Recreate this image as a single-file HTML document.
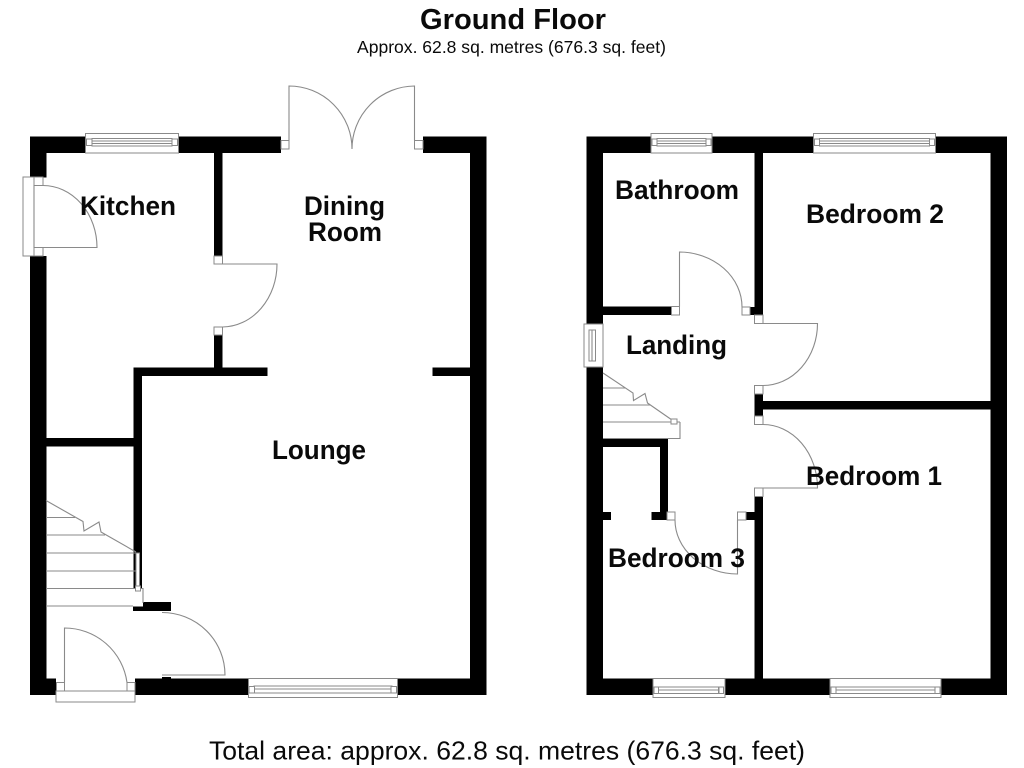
<!DOCTYPE html>
<html>
<head>
<meta charset="utf-8">
<title>Ground Floor</title>
<style>
html,body{margin:0;padding:0;background:#fff;width:1024px;height:768px;overflow:hidden}
svg{display:block}
text{font-family:"Liberation Sans",sans-serif;fill:#0a0a0a}
.l{font-weight:bold;font-size:26.4px}
.g{fill:#fff;stroke:#8a8a8a;stroke-width:1}
.n{fill:none;stroke:#8a8a8a;stroke-width:1.1}
</style>
</head>
<body>
<svg width="1024" height="768" viewBox="0 0 1024 768" xmlns="http://www.w3.org/2000/svg">
<rect width="1024" height="768" fill="#fff"/>

<!-- LEFT PLAN WALLS -->
<g fill="#000">
<rect x="30" y="136.5" width="251" height="16.5"/>
<rect x="423" y="136.5" width="63" height="16.5"/>
<rect x="30" y="136.5" width="16.5" height="41"/>
<rect x="30" y="256" width="16.5" height="439"/>
<rect x="470" y="136.5" width="16.5" height="558.5"/>
<rect x="30" y="678.5" width="26" height="16.5"/>
<rect x="135" y="678.5" width="351" height="16.5"/>
<rect x="214" y="153" width="8.5" height="103"/>
<rect x="214" y="335" width="8.5" height="33"/>
<rect x="133.5" y="367.5" width="134" height="8.5"/>
<rect x="432.5" y="367.5" width="38" height="8.5"/>
<rect x="133.5" y="367.5" width="8.5" height="221"/>
<rect x="46" y="438" width="88" height="8.5"/>
<rect x="143" y="602" width="28" height="9"/>
<rect x="133" y="606.5" width="12" height="4.5"/>
<rect x="162" y="677" width="9" height="2"/>
</g>

<!-- LEFT PLAN WINDOWS -->
<g>
<rect class="g" x="85.5" y="133.5" width="93" height="19.5"/>
<rect class="g" x="92" y="138.5" width="80" height="7.5"/>
<path class="n" d="M92 141h80M92 143.5h80"/>
<rect class="g" x="86.5" y="139" width="5.5" height="6.5"/>
<rect class="g" x="172" y="139" width="5.5" height="6.5"/>

<rect class="g" x="248.5" y="678.5" width="149" height="19"/>
<rect class="g" x="254" y="686" width="138" height="7"/>
<path class="n" d="M254 689h138"/>
<rect class="g" x="249" y="686.5" width="5.5" height="6.5"/>
<rect class="g" x="391" y="686.5" width="5.5" height="6.5"/>
</g>

<!-- LEFT PLAN DOORS -->
<g>
<!-- kitchen external door -->
<rect class="g" x="23" y="177" width="11" height="79"/>
<rect class="g" x="34" y="177" width="9" height="8.5"/>
<rect class="g" x="34" y="247.5" width="9" height="8.5"/>
<path class="n" d="M34 185V247.5H97A54 62 0 0 0 43 185.5"/>
<!-- kitchen/dining door -->
<rect class="g" x="214" y="256" width="8.5" height="8"/>
<rect class="g" x="214" y="327" width="8.5" height="8"/>
<path class="n" d="M222.5 264H277A55 63 0 0 1 222.5 327"/>
<!-- french doors -->
<rect class="g" x="281" y="140.5" width="8" height="8.5"/>
<rect class="g" x="414.5" y="140.5" width="8.5" height="8.5"/>
<path class="n" d="M289 140.5V86A63 63 0 0 1 352 149M414.5 140.5V86A63 63 0 0 0 352 149"/>
<!-- entrance door -->
<rect class="g" x="56" y="691" width="79" height="11"/>
<rect class="g" x="56.5" y="682.5" width="8" height="8.5"/>
<rect class="g" x="127" y="682.5" width="8" height="8.5"/>
<path class="n" d="M64.5 682.5V628A63 63 0 0 1 127 682.5"/>
<!-- lounge door -->
<path class="n" d="M162 612.5A63 62.5 0 0 1 225 675H162"/>
</g>

<!-- LEFT STAIRS -->
<g>
<path class="n" d="M46 500.5L83 521.5L84 531L99 522L101 532L136 552"/>
<path class="n" d="M46 517.5H75M46 535H105M46 553H136M46 571H136M46 588.5H136M46 606H133"/>
<rect class="g" x="136" y="553" width="3.5" height="34"/>
<rect class="g" x="135.5" y="586" width="5" height="5"/>
<path class="n" d="M140 588.5H143V603"/>
</g>

<!-- RIGHT PLAN WALLS -->
<g fill="#000">
<rect x="586.5" y="136.5" width="420.5" height="16.5"/>
<rect x="586.5" y="136.5" width="16.5" height="187"/>
<rect x="586.5" y="367" width="16.5" height="328"/>
<rect x="990.5" y="136.5" width="16.5" height="558.5"/>
<rect x="586.5" y="678.5" width="420.5" height="16.5"/>
<rect x="754.5" y="153" width="8.5" height="162"/>
<rect x="750" y="307" width="5" height="8"/>
<rect x="603" y="306.5" width="68" height="8.5"/>
<rect x="754.5" y="394" width="8.5" height="22"/>
<rect x="763" y="401" width="228" height="8.5"/>
<rect x="754.5" y="496.5" width="8.5" height="182"/>
<rect x="746" y="512" width="9" height="8"/>
<rect x="603" y="439" width="65" height="8"/>
<rect x="660" y="439" width="8" height="73"/>
<rect x="651.5" y="512" width="15.5" height="8"/>
<rect x="603" y="512" width="8" height="8"/>
</g>

<!-- RIGHT PLAN WINDOWS -->
<g>
<rect class="g" x="651" y="133.5" width="61" height="19.5"/>
<rect class="g" x="657" y="138.5" width="49" height="7.5"/>
<path class="n" d="M657 141h49M657 143.5h49"/>
<rect class="g" x="652" y="139" width="5" height="6.5"/>
<rect class="g" x="706" y="139" width="5" height="6.5"/>

<rect class="g" x="813.5" y="133.5" width="122" height="19.5"/>
<rect class="g" x="819.5" y="138.5" width="110" height="7.5"/>
<path class="n" d="M819.5 141h110M819.5 143.5h110"/>
<rect class="g" x="814.5" y="139" width="5" height="6.5"/>
<rect class="g" x="929.5" y="139" width="5" height="6.5"/>

<rect class="g" x="653" y="678.5" width="72" height="19"/>
<rect class="g" x="658.5" y="687" width="60" height="6.5"/>
<path class="n" d="M658.5 690h60"/>
<rect class="g" x="654" y="687" width="4.5" height="6.5"/>
<rect class="g" x="719" y="687" width="4.5" height="6.5"/>

<rect class="g" x="830" y="678.5" width="111" height="19"/>
<rect class="g" x="836" y="687" width="99" height="6.5"/>
<path class="n" d="M836 690h99"/>
<rect class="g" x="831" y="687" width="5" height="6.5"/>
<rect class="g" x="935" y="687" width="5" height="6.5"/>

<!-- landing window -->
<rect class="g" x="584" y="324" width="19" height="43"/>
<rect class="g" x="589" y="330" width="6.5" height="31"/>
<path class="n" d="M592 330v31"/>
</g>

<!-- RIGHT PLAN DOORS -->
<g>
<!-- bathroom -->
<rect class="g" x="671.5" y="306.5" width="8" height="8.5"/>
<rect class="g" x="742" y="307" width="8" height="8"/>
<path class="n" d="M679.5 306.5V252A63 55 0 0 1 742 307"/>
<!-- bedroom 2 -->
<rect class="g" x="754.5" y="315" width="8.5" height="8.5"/>
<rect class="g" x="754.5" y="385.5" width="8.5" height="8.5"/>
<path class="n" d="M763 323.5H817.5A54.5 62 0 0 1 763 385.5"/>
<!-- bedroom 1 -->
<rect class="g" x="754.5" y="416" width="8.5" height="8.5"/>
<rect class="g" x="754.5" y="488" width="8.5" height="8.5"/>
<path class="n" d="M763 424.5A54.5 63.5 0 0 1 817.5 488H763"/>
<!-- bedroom 3 -->
<rect class="g" x="667" y="512" width="8" height="8"/>
<rect class="g" x="737.5" y="512" width="8.5" height="8"/>
<path class="n" d="M675 520A63 54 0 0 0 737.5 574V520"/>
</g>

<!-- RIGHT STAIRS -->
<g>
<path class="n" d="M603 373L633 393L633.5 400.5L645 393.5L647.5 403L672 420"/>
<path class="n" d="M603 388H625M603 405H650M603 422H680M603 438.5H680V422"/>
<rect class="g" x="671" y="419" width="6" height="5"/>
</g>

<!-- TEXT -->
<text x="420" y="29" font-size="29" font-weight="bold" textLength="186" lengthAdjust="spacingAndGlyphs">Ground Floor</text>
<text x="357" y="53" font-size="17.5" textLength="309" lengthAdjust="spacingAndGlyphs">Approx. 62.8 sq. metres (676.3 sq. feet)</text>
<text x="209" y="759.5" font-size="26" textLength="596" lengthAdjust="spacingAndGlyphs">Total area: approx. 62.8 sq. metres (676.3 sq. feet)</text>

<text class="l" x="80" y="215" textLength="96" lengthAdjust="spacingAndGlyphs">Kitchen</text>
<text class="l" x="304" y="215" textLength="81" lengthAdjust="spacingAndGlyphs">Dining</text>
<text class="l" x="308" y="241" textLength="74" lengthAdjust="spacingAndGlyphs">Room</text>
<text class="l" x="272" y="459" textLength="94" lengthAdjust="spacingAndGlyphs">Lounge</text>
<text class="l" x="615" y="199" textLength="124" lengthAdjust="spacingAndGlyphs">Bathroom</text>
<text class="l" x="806" y="223" textLength="138" lengthAdjust="spacingAndGlyphs">Bedroom 2</text>
<text class="l" x="626" y="354" textLength="101" lengthAdjust="spacingAndGlyphs">Landing</text>
<text class="l" x="806" y="485" textLength="136" lengthAdjust="spacingAndGlyphs">Bedroom 1</text>
<text class="l" x="608" y="567" textLength="137" lengthAdjust="spacingAndGlyphs">Bedroom 3</text>
</svg>
</body>
</html>
